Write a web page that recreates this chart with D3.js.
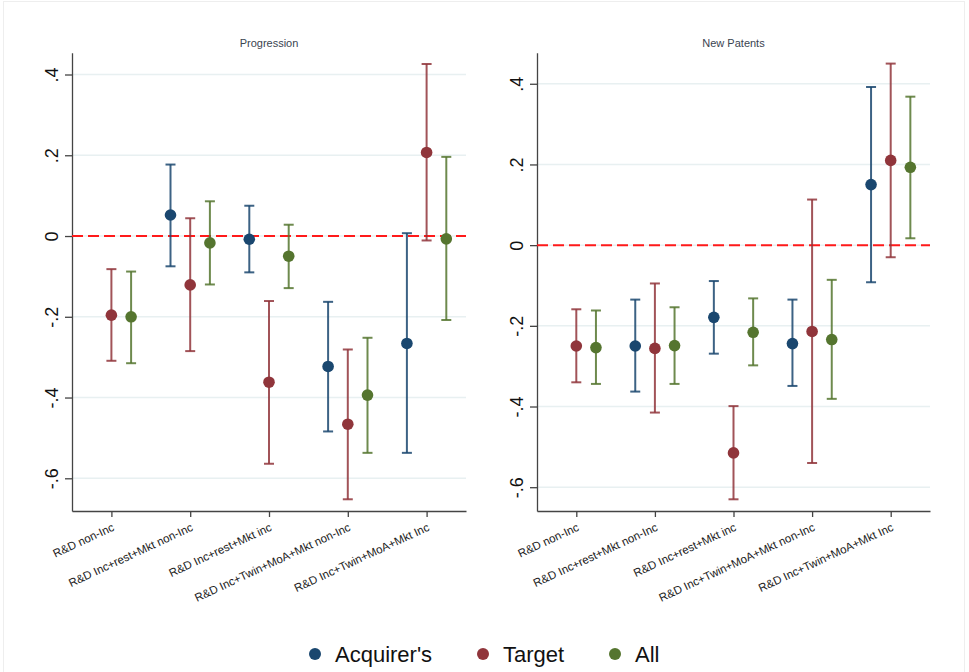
<!DOCTYPE html>
<html>
<head>
<meta charset="utf-8">
<script src="https://cdn.jsdelivr.net/npm/d3@7"></script>
<style>
  body { margin: 0; background: #fff; }
  svg { font-family: Arial, "Liberation Sans", sans-serif; }
  .grid line { stroke: #e8f0f1; stroke-width: 1.5; }
  .axis path, .axis line { stroke: #444; stroke-width: 1.3; }
</style>
</head>
<body>
<svg width="969" height="672"></svg>
<script>
// categories and series
var categories = ["R&D non-Inc", "R&D Inc+rest+Mkt non-Inc", "R&D Inc+rest+Mkt inc",
  "R&D Inc+Twin+MoA+Mkt non-Inc", "R&D Inc+Twin+MoA+Mkt Inc"];
var seriesNames = ["Acquirer's", "Target", "All"];
var seriesColors = ["#1a476f", "#90353b", "#55752f"];
var yTicks = [-0.6, -0.4, -0.2, 0, 0.2, 0.4];
var yTickLabels = ["-.6", "-.4", "-.2", "0", ".2", ".4"];

// Progression: estimate, lower, upper
var progAcqEst = [null, 0.052, -0.008, -0.323, -0.266];
var progAcqLo  = [null, -0.075, -0.090, -0.484, -0.537];
var progAcqHi  = [null, 0.177, 0.075, -0.163, 0.007];
var progTgtEst = [-0.196, -0.121, -0.362, -0.466, 0.207];
var progTgtLo  = [-0.309, -0.285, -0.564, -0.652, -0.011];
var progTgtHi  = [-0.082, 0.044, -0.161, -0.281, 0.426];
var progAllEst = [-0.200, -0.017, -0.050, -0.394, -0.007];
var progAllLo  = [-0.315, -0.120, -0.129, -0.537, -0.208];
var progAllHi  = [-0.088, 0.086, 0.028, -0.252, 0.196];

// New Patents
var patAcqEst = [null, -0.250, -0.179, -0.244, 0.150];
var patAcqLo  = [null, -0.363, -0.269, -0.349, -0.092];
var patAcqHi  = [null, -0.135, -0.089, -0.135, 0.392];
var patTgtEst = [-0.250, -0.256, -0.515, -0.214, 0.210];
var patTgtLo  = [-0.340, -0.415, -0.630, -0.540, -0.030];
var patTgtHi  = [-0.159, -0.095, -0.399, 0.113, 0.450];
var patAllEst = [-0.254, -0.249, -0.216, -0.234, 0.193];
var patAllLo  = [-0.344, -0.344, -0.298, -0.381, 0.017];
var patAllHi  = [-0.162, -0.154, -0.132, -0.086, 0.368];

var panels = [
  { title: "Progression", left: 72, right: 466, ydom: [-0.681, 0.454],
    est: [progAcqEst, progTgtEst, progAllEst], lo: [progAcqLo, progTgtLo, progAllLo], hi: [progAcqHi, progTgtHi, progAllHi] },
  { title: "New Patents", left: 537, right: 930, ydom: [-0.659, 0.477],
    est: [patAcqEst, patTgtEst, patAllEst], lo: [patAcqLo, patTgtLo, patAllLo], hi: [patAcqHi, patTgtHi, patAllHi] }
];

var svg = d3.select("svg");
var plotTop = 52.7, plotBottom = 511;
var offsets = [-0.25, 0, 0.25];

// faint outer frame
svg.append("rect").attr("x", 3.5).attr("y", 1.5).attr("width", 961).attr("height", 680)
  .attr("fill", "none").attr("stroke", "#eeeeee");

panels.forEach(function(p) {
  var x = d3.scaleLinear().domain([0.5, categories.length + 0.5]).range([p.left, p.right]);
  var y = d3.scaleLinear().domain(p.ydom).range([plotBottom, plotTop]);
  var g = svg.append("g");

  // gridlines
  g.append("g").attr("class", "grid")
    .selectAll("line").data(yTicks).enter().append("line")
    .attr("x1", p.left).attr("x2", p.right)
    .attr("y1", function(d) { return y(d); }).attr("y2", function(d) { return y(d); });

  // y axis
  var ya = g.append("g").attr("class", "axis")
    .attr("transform", "translate(" + p.left + ",0)")
    .call(d3.axisLeft(y).tickValues(yTicks).tickSize(7).tickSizeOuter(0)
      .tickFormat(function(d, i) { return yTickLabels[i]; }));
  ya.selectAll("text").remove();
  ya.selectAll(".tick").append("text")
    .attr("transform", "translate(-20,0) rotate(-90)")
    .attr("text-anchor", "middle")
    .attr("dy", "0.35em")
    .attr("fill", "#111")
    .style("font-size", "18px")
    .text(function(d, i) { return yTickLabels[i]; });

  // x axis
  var xa = g.append("g").attr("class", "axis")
    .attr("transform", "translate(0," + plotBottom + ")")
    .call(d3.axisBottom(x).tickValues(d3.range(1, categories.length + 1)).tickSize(6).tickSizeOuter(0)
      .tickFormat(function(d) { return categories[d - 1]; }));
  xa.selectAll("text")
    .attr("text-anchor", "end")
    .attr("fill", "#222")
    .style("font-size", "11.5px")
    .attr("y", 0).attr("dy", 0)
    .attr("transform", "translate(3,19) rotate(-25)");

  // zero reference line
  g.append("line")
    .attr("x1", p.left).attr("x2", p.right)
    .attr("y1", y(0)).attr("y2", y(0))
    .attr("stroke", "#ff1a1a").attr("stroke-width", 2)
    .attr("stroke-dasharray", "11,5");

  // title
  g.append("text")
    .attr("x", (p.left + p.right) / 2).attr("y", 47)
    .attr("text-anchor", "middle")
    .attr("fill", "#3a4450")
    .style("font-size", "11px")
    .text(p.title);

  // error bars and points
  seriesNames.forEach(function(s, si) {
    var rows = categories.map(function(c, ci) {
      return { c: ci + 1, est: p.est[si][ci], lo: p.lo[si][ci], hi: p.hi[si][ci] };
    }).filter(function(d) { return d.est !== null; });
    var sg = g.append("g");
    var col = seriesColors[si];
    var cx = function(d) { return x(d.c + offsets[si]); };
    sg.selectAll(".ci").data(rows).enter().append("line")
      .attr("x1", cx).attr("x2", cx)
      .attr("y1", function(d) { return y(d.lo); }).attr("y2", function(d) { return y(d.hi); })
      .attr("stroke", col).attr("stroke-opacity", 0.85).attr("stroke-width", 2);
    ["lo", "hi"].forEach(function(k) {
      sg.selectAll(".cap-" + k).data(rows).enter().append("line")
        .attr("x1", function(d) { return cx(d) - 5; }).attr("x2", function(d) { return cx(d) + 5; })
        .attr("y1", function(d) { return y(d[k]); }).attr("y2", function(d) { return y(d[k]); })
        .attr("stroke", col).attr("stroke-opacity", 0.85).attr("stroke-width", 2);
    });
    sg.selectAll("circle").data(rows).enter().append("circle")
      .attr("cx", cx).attr("cy", function(d) { return y(d.est); })
      .attr("r", 5.8).attr("fill", col);
  });
});

// legend
var legendX = [315, 483, 615];
var lg = svg.append("g");
seriesNames.forEach(function(s, i) {
  lg.append("circle").attr("cx", legendX[i]).attr("cy", 654).attr("r", 6).attr("fill", seriesColors[i]);
  lg.append("text").attr("x", legendX[i] + 20).attr("y", 662)
    .style("font-size", "22px").attr("fill", "#111").text(s);
});
</script>
</body>
</html>
